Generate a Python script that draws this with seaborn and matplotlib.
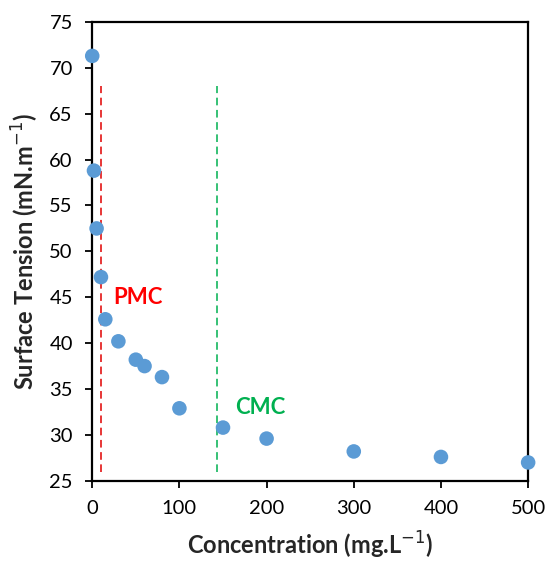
import numpy as np
import pandas as pd
import seaborn as sns
from matplotlib import pyplot as plt

# data
conc = [0, 2, 5, 10, 15, 30, 50, 60, 80, 100, 150, 200, 300, 400, 500]
tension = [71.3, 58.8, 52.5, 47.2, 42.6, 40.2, 38.2, 37.5, 36.3, 32.9, 30.8, 29.6, 28.2, 27.6, 27.0]
pmc_x = 10
cmc_x = 143

df = pd.DataFrame({'conc': conc, 'tension': tension})

sns.set_style('ticks')
plt.rcParams['font.family'] = ['Lato', 'DejaVu Sans']

fig = plt.figure(figsize=(5.49, 5.63), dpi=100)
ax = fig.add_axes([0.168, 0.146, 0.794, 0.815])

ax.vlines(pmc_x, 26, 68, colors='#e00000', linestyles=(0, (5, 3)), linewidth=1.1)
ax.vlines(cmc_x, 26, 68, colors='#00b050', linestyles=(0, (5, 3)), linewidth=1.1)

sns.scatterplot(data=df, x='conc', y='tension', ax=ax, color='#5b9bd5',
                s=110, edgecolor='none', zorder=3, clip_on=False)

ax.text(24, 45, 'PMC', color='#ff0000', fontsize=16, fontweight='bold', va='center')
ax.text(164, 33, 'CMC', color='#00b050', fontsize=16, fontweight='bold', va='center')

ax.set_xlim(0, 500)
ax.set_ylim(25, 75)
ax.set_xticks(range(0, 501, 100))
ax.set_yticks(range(25, 76, 5))
for s in ax.spines.values():
    s.set_linewidth(1.6)
    s.set_color('black')
ax.tick_params(labelsize=14.5, width=1.3, length=5, colors='black')
ax.tick_params(axis='x', pad=9)
ax.tick_params(axis='y', pad=9)

ax.set_xlabel('Concentration (mg.L$^{-1}$)', fontsize=17, fontweight='bold', labelpad=9)
ax.set_ylabel('Surface Tension (mN.m$^{-1}$)', fontsize=17, fontweight='bold', labelpad=6)

fig.savefig('out.png', dpi=100)
